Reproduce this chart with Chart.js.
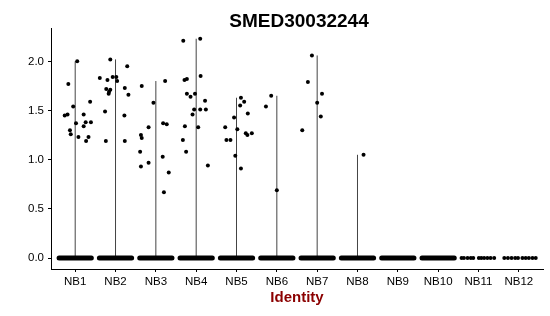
<!DOCTYPE html>
<html>
<head>
<meta charset="utf-8">
<script src="https://cdn.jsdelivr.net/npm/chart.js@4"></script>
<style>
  body { margin: 0; background: #fff; }
  canvas { display: block; }
</style>
</head>
<body>
<canvas id="vln" width="550" height="316"></canvas>
<script>
// data
let categories = ['NB1', 'NB2', 'NB3', 'NB4', 'NB5', 'NB6', 'NB7', 'NB8', 'NB9', 'NB10', 'NB11', 'NB12']
let yTicks = [0, 0.5, 1.0, 1.5, 2.0]

// non-zero expression values per identity
let exprValues = [
  [1.77, 2.00, 1.45, 1.46, 1.54, 1.30, 1.26, 1.37, 1.23, 1.46, 1.34, 1.38, 1.38, 1.23, 1.19, 1.59],
  [2.02, 1.83, 1.81, 1.84, 1.84, 1.80, 1.72, 1.71, 1.67, 1.69, 1.95, 1.73, 1.66, 1.49, 1.45, 1.19, 1.19],
  [1.75, 1.80, 1.58, 1.33, 1.37, 1.36, 1.25, 1.22, 1.08, 0.97, 0.93, 1.03, 0.87, 0.67],
  [2.21, 2.23, 1.81, 1.82, 1.85, 1.67, 1.64, 1.67, 1.60, 1.51, 1.51, 1.51, 1.46, 1.34, 1.33, 1.20, 1.08, 0.94],
  [1.63, 1.59, 1.55, 1.47, 1.43, 1.33, 1.31, 1.27, 1.25, 1.27, 1.20, 1.20, 1.04, 0.91],
  [1.65, 1.54, 0.69],
  [2.06, 1.79, 1.67, 1.58, 1.44, 1.30],
  [1.05],
  [], [], [], []
]
// horizontal jitter of those points (fraction of a category)
let jitterOffsets = [
  [-0.17, 0.05, -0.26, -0.19, -0.05, -0.13, -0.11, 0.02, 0.08, 0.21, 0.21, 0.26, 0.39, 0.33, 0.27, 0.37],
  [-0.13, -0.39, -0.20, -0.07, 0.02, 0.04, -0.23, -0.13, -0.17, -0.16, 0.29, 0.23, 0.32, -0.26, 0.22, -0.24, 0.23],
  [-0.35, 0.23, -0.06, -0.18, 0.18, 0.27, -0.37, -0.35, -0.39, -0.18, -0.37, 0.17, 0.32, 0.20],
  [-0.32, 0.10, -0.29, -0.23, 0.11, -0.23, -0.14, -0.03, 0.22, -0.05, 0.10, 0.24, -0.09, -0.28, 0.05, -0.33, -0.25, 0.29],
  [0.11, 0.19, 0.09, 0.28, -0.06, -0.28, 0.02, 0.23, 0.27, 0.38, -0.25, -0.15, -0.03, 0.11],
  [-0.14, -0.27, 0.00],
  [-0.13, -0.23, 0.12, 0.00, 0.09, -0.37],
  [0.15],
  [], [], [], []
]

// zero-valued cells: dense groups drawn as a band, sparse ones as single dots
let zeroSpread = [0.4, 0.4, 0.4, 0.4, 0.4, 0.4, 0.4, 0.4, 0.4, 0.4, 0, 0]
let zeroDots = [
  [], [], [], [], [], [], [], [], [], [],
  [-0.42, -0.36, -0.27, -0.19, -0.13, 0.01, 0.07, 0.14, 0.22, 0.30, 0.39],
  [-0.36, -0.27, -0.18, -0.09, -0.02, 0.09, 0.17, 0.25, 0.34, 0.42]
]

let datasets = []

// violins (collapse to a thin line, since almost every cell is zero)
categories.forEach((c, i) => {
  if (exprValues[i].length === 0) return
  let top = Math.max(...exprValues[i])
  datasets.push({
    type: 'line',
    data: [{x: i + 1, y: 0}, {x: i + 1, y: top}],
    borderColor: '#444',
    borderWidth: 1,
    pointRadius: 0,
    order: 3
  })
})

// zero bands
categories.forEach((c, i) => {
  if (!zeroSpread[i]) return
  datasets.push({
    type: 'line',
    data: [{x: i + 1 - zeroSpread[i], y: 0}, {x: i + 1 + zeroSpread[i], y: 0}],
    borderColor: '#000',
    borderWidth: 5,
    borderCapStyle: 'round',
    pointRadius: 0,
    order: 2
  })
})

// jittered points
let pts = []
categories.forEach((c, i) => {
  exprValues[i].forEach((v, j) => pts.push({x: i + 1 + jitterOffsets[i][j], y: v}))
  zeroDots[i].forEach((o) => pts.push({x: i + 1 + o, y: 0}))
})
datasets.push({
  type: 'scatter',
  data: pts,
  backgroundColor: '#000',
  borderWidth: 0,
  pointRadius: 2,
  order: 1
})

let titles = {
  id: 'titles',
  afterDraw(chart) {
    let {ctx, chartArea} = chart
    let cx = (chartArea.left + chartArea.right) / 2
    ctx.save()
    ctx.textAlign = 'center'
    ctx.fillStyle = '#000'
    ctx.font = 'bold 19px "Liberation Sans", Arial, sans-serif'
    ctx.fillText('SMED30032244', cx + 2, 27)
    ctx.fillStyle = '#8B0000'
    ctx.font = 'bold 15px "Liberation Sans", Arial, sans-serif'
    ctx.fillText('Identity', cx, 302)
    ctx.restore()
  }
}

let tickFont = {family: '"Liberation Sans", Arial, sans-serif', size: 11.5}

new Chart(document.querySelector('#vln'), {
  type: 'scatter',
  data: {datasets: datasets},
  options: {
    responsive: false,
    animation: false,
    devicePixelRatio: 1,
    layout: {padding: {top: 28, right: 7, left: 0, bottom: 0}},
    plugins: {
      legend: {display: false},
      tooltip: {enabled: false}
    },
    scales: {
      x: {
        type: 'linear',
        min: 0.4,
        max: 12.6,
        afterBuildTicks: (s) => { s.ticks = categories.map((c, i) => ({value: i + 1})) },
        afterFit: (s) => { s.height = 47 },
        ticks: {
          callback: (v) => categories[v - 1],
          font: tickFont,
          color: '#000',
          padding: 3,
          autoSkip: false,
          maxRotation: 0
        },
        grid: {drawOnChartArea: false, tickLength: 3, color: '#000'},
        border: {display: true, color: '#000', width: 1}
      },
      y: {
        min: -0.111,
        max: 2.339,
        afterBuildTicks: (s) => { s.ticks = yTicks.map((v) => ({value: v})) },
        afterFit: (s) => { s.width = 51 },
        ticks: {
          callback: (v) => v.toFixed(1),
          font: tickFont,
          color: '#000',
          padding: 4
        },
        grid: {drawOnChartArea: false, tickLength: 3, color: '#000'},
        border: {display: true, color: '#000', width: 1}
      }
    }
  },
  plugins: [titles]
})
</script>
</body>
</html>
